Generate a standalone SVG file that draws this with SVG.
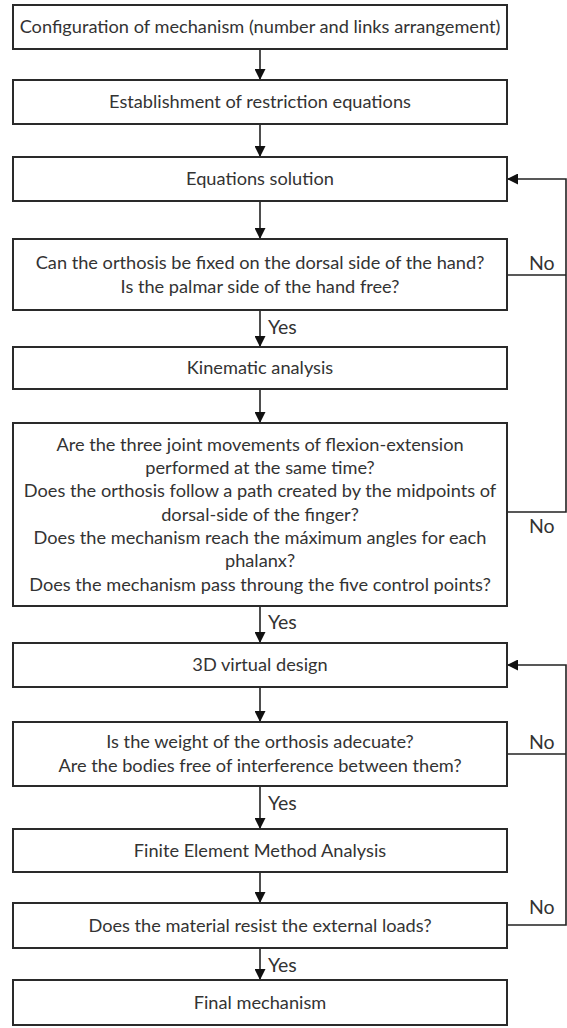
<svg xmlns="http://www.w3.org/2000/svg" width="567" height="1028" viewBox="0 0 567 1028">
<style>
.box{fill:#fff;stroke:#2a2a2a;stroke-width:2}
.t{font-family:Lato,"Open Sans",sans-serif;font-size:18.2px;fill:#333;text-anchor:middle}
.lbl{font-family:Lato,"Open Sans",sans-serif;font-size:19.5px;fill:#333}
.c{fill:none;stroke:#222;stroke-width:1.6}
</style>
<defs>
<marker id="ah" viewBox="0 0 10 10" refX="10" refY="5" markerWidth="11" markerHeight="11" markerUnits="userSpaceOnUse" orient="auto">
<path d="M0,0 L10,5 L0,10 Z" fill="#111"/>
</marker>
</defs>
<rect width="567" height="1028" fill="#fff"/>
<g id="connectors">
<line class="c" x1="260" y1="49" x2="260" y2="80" marker-end="url(#ah)"/>
<line class="c" x1="260" y1="124" x2="260" y2="157" marker-end="url(#ah)"/>
<line class="c" x1="260" y1="201" x2="260" y2="239" marker-end="url(#ah)"/>
<line class="c" x1="260" y1="310" x2="260" y2="347" marker-end="url(#ah)"/>
<line class="c" x1="260" y1="389" x2="260" y2="423" marker-end="url(#ah)"/>
<line class="c" x1="260" y1="606" x2="260" y2="643" marker-end="url(#ah)"/>
<line class="c" x1="260" y1="687" x2="260" y2="722" marker-end="url(#ah)"/>
<line class="c" x1="260" y1="786" x2="260" y2="829" marker-end="url(#ah)"/>
<line class="c" x1="260" y1="872" x2="260" y2="903" marker-end="url(#ah)"/>
<line class="c" x1="260" y1="948" x2="260" y2="980" marker-end="url(#ah)"/>
<polyline class="c" points="507,512 566,512 566,179 507,179" marker-end="url(#ah)"/>
<line class="c" x1="507" y1="275" x2="566" y2="275"/>
<polyline class="c" points="507,925 566,925 566,665 507,665" marker-end="url(#ah)"/>
<line class="c" x1="507" y1="754" x2="566" y2="754"/>
<text class="lbl" x="268" y="334">Yes</text>
<text class="lbl" x="268" y="629">Yes</text>
<text class="lbl" x="268" y="810">Yes</text>
<text class="lbl" x="268" y="972">Yes</text>
<text class="lbl" x="529" y="270">No</text>
<text class="lbl" x="529" y="533">No</text>
<text class="lbl" x="529" y="749">No</text>
<text class="lbl" x="529" y="914">No</text>
</g>
<g id="n1"><rect class="box" x="13" y="5" width="494" height="44"/><text class="t" x="260" y="33">Configuration of mechanism (number and links arrangement)</text></g>
<g id="n2"><rect class="box" x="13" y="80" width="494" height="44"/><text class="t" x="260" y="108">Establishment of restriction equations</text></g>
<g id="n3"><rect class="box" x="13" y="157" width="494" height="44"/><text class="t" x="260" y="185">Equations solution</text></g>
<g id="n4"><rect class="box" x="13" y="239" width="494" height="71"/><text class="t" x="260" y="268.5">Can the orthosis be fixed on the dorsal side of the hand?</text><text class="t" x="260" y="293">Is the palmar side of the hand free?</text></g>
<g id="n5"><rect class="box" x="13" y="347" width="494" height="42"/><text class="t" x="260" y="374">Kinematic analysis</text></g>
<g id="n6"><rect class="box" x="13" y="423" width="494" height="183"/>
<text class="t" x="260" y="450.6">Are the three joint movements of flexion-extension</text>
<text class="t" x="260" y="474">performed at the same time?</text>
<text class="t" x="260" y="497.3">Does the orthosis follow a path created by the midpoints of</text>
<text class="t" x="260" y="520.6">dorsal-side of the finger?</text>
<text class="t" x="260" y="544">Does the mechanism reach the máximum angles for each</text>
<text class="t" x="260" y="567.3">phalanx?</text>
<text class="t" x="260" y="590.6">Does the mechanism pass throung the five control points?</text>
</g>
<g id="n7"><rect class="box" x="13" y="643" width="494" height="44"/><text class="t" x="260" y="671">3D virtual design</text></g>
<g id="n8"><rect class="box" x="13" y="722" width="494" height="64"/><text class="t" x="260" y="748">Is the weight of the orthosis adecuate?</text><text class="t" x="260" y="771.5">Are the bodies free of interference between them?</text></g>
<g id="n9"><rect class="box" x="13" y="829" width="494" height="43"/><text class="t" x="260" y="856.5">Finite Element Method Analysis</text></g>
<g id="n10"><rect class="box" x="13" y="903" width="494" height="45"/><text class="t" x="260" y="931.5">Does the material resist the external loads?</text></g>
<g id="n11"><rect class="box" x="13" y="980" width="494" height="45"/><text class="t" x="260" y="1008.5">Final mechanism</text></g>
</svg>
